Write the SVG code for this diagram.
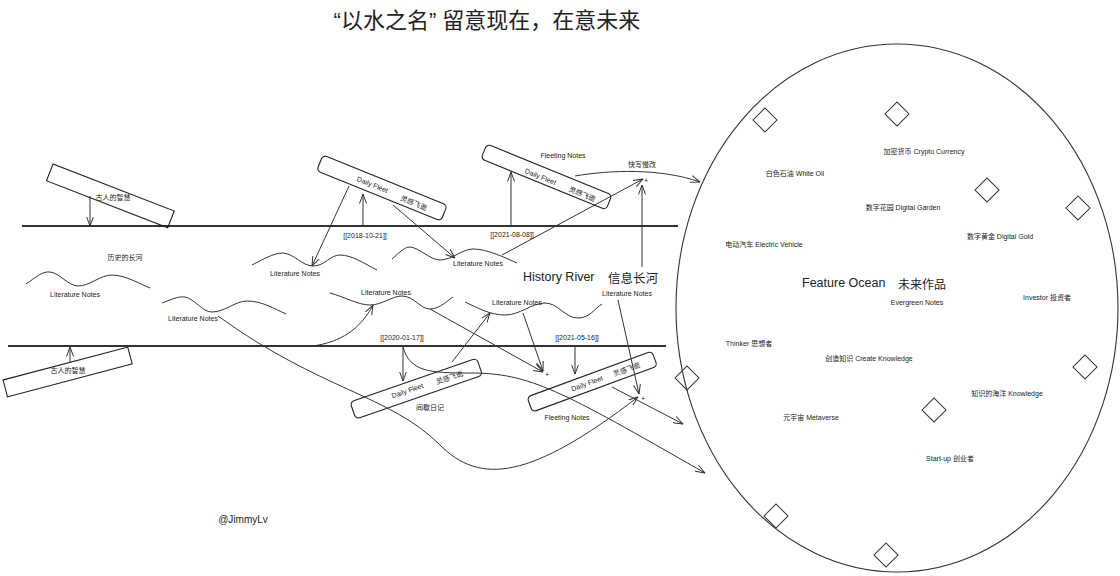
<svg xmlns="http://www.w3.org/2000/svg" width="1120" height="576" viewBox="0 0 1120 576">
<defs>
<marker id="ah" viewBox="0 0 10 10" refX="9.5" refY="5" markerWidth="10" markerHeight="10" orient="auto" markerUnits="userSpaceOnUse"><path d="M0,1.5 L9.5,5 L0,8.5" fill="none" stroke="#333" stroke-width="1"/></marker>
<style>
.ln{fill:none;stroke:#333;stroke-width:1}
.river{fill:none;stroke:#333;stroke-width:2}
.box{fill:none;stroke:#222;stroke-width:1.1}
.wave{fill:none;stroke:#333;stroke-width:1}
.dia{fill:none;stroke:#333;stroke-width:1}
.t{font-family:"Liberation Sans","Noto Sans CJK SC",sans-serif;fill:#222;text-anchor:middle;dominant-baseline:central}
.s7{font-size:7px}
.s8{font-size:8px}
.cn{font-family:"Noto Sans CJK SC","Liberation Sans",sans-serif;fill:#222;text-anchor:middle;dominant-baseline:central}
</style>
</defs>
<rect width="1120" height="576" fill="#fff"/>

<text class="t" x="487" y="20" style="font-size:22px">“以水之名” 留意现在，在意未来</text>

<!-- river -->
<g id="river">
<line class="river" x1="22" y1="226" x2="678" y2="226"/>
<line class="river" x1="8" y1="346" x2="666" y2="346"/>
<text class="cn s7" x="125" y="257">历史的长河</text>
<text class="t" x="523" y="277" style="font-size:12.5px;text-anchor:start">History River</text>
<text class="cn" x="608" y="277" style="font-size:12.5px;text-anchor:start">信息长河</text>
</g>

<!-- ocean -->
<g id="ocean">
<ellipse cx="897" cy="308" rx="221" ry="264" fill="none" stroke="#333" stroke-width="1.1"/>
<text class="t" x="802" y="283" style="font-size:12.5px;text-anchor:start">Feature Ocean</text>
<text class="cn" x="898" y="283" style="font-size:12px;text-anchor:start">未来作品</text>
</g>

<g id="diamonds">
<rect class="dia" x="-8.5" y="-8.5" width="17" height="17" transform="translate(765,120) rotate(45)"/>
<rect class="dia" x="-8.5" y="-8.5" width="17" height="17" transform="translate(897,114) rotate(45)"/>
<rect class="dia" x="-8.5" y="-8.5" width="17" height="17" transform="translate(987,190) rotate(45)"/>
<rect class="dia" x="-8.5" y="-8.5" width="17" height="17" transform="translate(1078,208) rotate(45)"/>
<rect class="dia" x="-8.5" y="-8.5" width="17" height="17" transform="translate(1085,367) rotate(45)"/>
<rect class="dia" x="-8.5" y="-8.5" width="17" height="17" transform="translate(934,410) rotate(45)"/>
<rect class="dia" x="-8.5" y="-8.5" width="17" height="17" transform="translate(776,516) rotate(45)"/>
<rect class="dia" x="-8.5" y="-8.5" width="17" height="17" transform="translate(886,555) rotate(45)"/>
<rect class="dia" x="-8.5" y="-8.5" width="17" height="17" transform="translate(687,378) rotate(45)"/>
</g>

<g id="ocean-labels">
<text class="t s7" x="924" y="151">加密货币 Crypto Currency</text>
<text class="t s7" x="795" y="173">白色石油 White Oil</text>
<text class="t s7" x="903" y="207">数字花园 Digital Garden</text>
<text class="t s7" x="1000" y="236">数字黄金 Digital Gold</text>
<text class="t s7" x="764" y="244">电动汽车 Electric Vehicle</text>
<text class="t s7" x="917" y="302">Evergreen Notes</text>
<text class="t s7" x="1047" y="297">Investor 投资者</text>
<text class="t s7" x="749" y="343">Thinker 思想者</text>
<text class="t s7" x="869" y="358">创造知识 Create Knowledge</text>
<text class="t s7" x="1007" y="393">知识的海洋 Knowledge</text>
<text class="t s7" x="811" y="417">元宇宙 Metaverse</text>
<text class="t s7" x="950" y="458">Start-up 创业者</text>
</g>

<!-- boxes -->
<g id="wisdom-top">
<g transform="translate(53,164) rotate(21.2)"><rect class="box" x="0" y="0" width="130" height="18"/></g>
<text class="cn s7" x="113" y="197">古人的智慧</text>
</g>
<g id="wisdom-bottom">
<g transform="translate(3,380) rotate(-14.8)"><rect class="box" x="0" y="0" width="129" height="17.5"/></g>
<text class="cn s7" x="68" y="370">古人的智慧</text>
</g>
<g id="fleet1" transform="translate(323,155) rotate(22)">
<rect class="box" x="0" y="0" width="134" height="17" rx="4"/>
<text class="t s7" x="57" y="9">Daily Fleet</text>
<text class="cn s7" x="102" y="10">灵感飞逝</text>
</g>
<g id="fleet2">
<g transform="translate(487,144) rotate(22.2)">
<rect class="box" x="0" y="0" width="135" height="16" rx="4"/>
<text class="t s7" x="62" y="10">Daily Fleet</text>
<text class="cn s7" x="107" y="10">灵感飞逝</text>
</g>
<text class="t s7" x="563" y="155">Fleeting Notes</text>
</g>
<g id="fleet3">
<g transform="translate(350,402) rotate(-19.1)">
<rect class="box" x="0" y="0" width="134" height="18" rx="4"/>
<text class="t s7" x="58" y="8">Daily Fleet</text>
<text class="cn s7" x="102" y="9">灵感飞逝</text>
</g>
<text class="cn s7" x="430" y="407">间歇日记</text>
</g>
<g id="fleet4">
<g transform="translate(527,397) rotate(-20.2)">
<rect class="box" x="0" y="0" width="133" height="16" rx="4"/>
<text class="t s7" x="61" y="8">Daily Fleet</text>
<text class="cn s7" x="103" y="8">灵感飞逝</text>
</g>
<text class="t s7" x="567" y="417">Fleeting Notes</text>
</g>

<!-- literature notes waves -->
<g id="lit1"><path class="wave" d="M26,284 C35,278 42,271 50,272 C60,273 68,286 78,286 C90,286 100,275 112,275 C125,275 140,284 150,288"/><text class="t s7" x="75" y="294">Literature Notes</text></g>
<g id="lit2"><path class="wave" d="M162,303 C170,300 178,296 185,297 C195,299 202,312 212,312 C225,312 235,301 247,301 C262,301 275,309 286,314"/><text class="t s7" x="193" y="318">Literature Notes</text></g>
<g id="lit3"><path class="wave" d="M252,265 C262,260 273,253 283,253 C295,254 302,266 313,266 C325,266 330,255 340,255 C352,255 365,264 377,270"/><text class="t s7" x="295" y="273">Literature Notes</text></g>
<g id="lit4"><path class="wave" d="M392,259 C398,254 404,247 410,247 C420,248 430,260 440,260 C452,260 462,249 473,249 C488,249 505,258 517,263"/><text class="t s7" x="478" y="263">Literature Notes</text></g>
<g id="lit5"><path class="wave" d="M330,293 C345,297 358,305 370,305 C382,305 392,296 402,296 C414,296 420,309 430,309 C440,309 448,300 453,297"/><text class="t s7" x="386" y="292">Literature Notes</text></g>
<g id="lit6"><path class="wave" d="M465,302 C478,308 490,315 505,315 C520,315 532,303 545,303 C558,303 565,318 578,318 C590,318 595,308 602,304"/><text class="t s7" x="517" y="302">Literature Notes</text></g>
<g id="lit7"><text class="t s7" x="627" y="293">Literature Notes</text></g>

<g id="dates">
<text class="t s7" x="365" y="235">[[2018-10-21]]</text>
<text class="t s7" x="512" y="234">[[2021-08-08]]</text>
<text class="t s7" x="402" y="337">[[2020-01-17]]</text>
<text class="t s7" x="577" y="337">[[2021-05-16]]</text>
<text class="cn s7" x="642" y="164">快写慢改</text>
<text class="t s7" x="646" y="180">+</text>
<text class="t s7" x="547" y="374">+</text>
<text class="t s7" x="643" y="398">+</text>
</g>

<g id="connectors">
<line class="ln" x1="90" y1="196" x2="90" y2="226" marker-end="url(#ah)"/>
<line class="ln" x1="70" y1="362" x2="70" y2="347" marker-end="url(#ah)"/>
<line class="ln" x1="349" y1="186" x2="312" y2="266" marker-end="url(#ah)"/>
<line class="ln" x1="363" y1="226" x2="363" y2="194" marker-end="url(#ah)"/>
<line class="ln" x1="393" y1="205" x2="455" y2="258" marker-end="url(#ah)"/>
<line class="ln" x1="511" y1="226" x2="511" y2="172" marker-end="url(#ah)"/>
<path class="ln" d="M575,176 C610,170 660,168 700,182" marker-end="url(#ah)"/>
<line class="ln" x1="502" y1="255" x2="643" y2="179" marker-end="url(#ah)"/>
<line class="ln" x1="642" y1="267" x2="642" y2="185" marker-end="url(#ah)"/>
<path class="ln" d="M313,346 C340,342 360,330 373,305" marker-end="url(#ah)"/>
<line class="ln" x1="452" y1="362" x2="490" y2="313" marker-end="url(#ah)"/>
<line class="ln" x1="523" y1="313" x2="543" y2="371" marker-end="url(#ah)"/>
<line class="ln" x1="430" y1="309" x2="543" y2="372" marker-end="url(#ah)"/>
<line class="ln" x1="403" y1="347" x2="403" y2="381" marker-end="url(#ah)"/>
<line class="ln" x1="575" y1="347" x2="575" y2="374" marker-end="url(#ah)"/>
<line class="ln" x1="618" y1="300" x2="639" y2="394" stroke="#777" stroke-width="1.5" marker-end="url(#ah)"/>
<path class="ln" d="M218,316 C320,390 390,395 440,445 C480,485 530,480 638,397" marker-end="url(#ah)"/>
<path class="ln" d="M403,347 C410,372 430,373 470,373 C530,373 560,390 705,473" marker-end="url(#ah)"/>
<line class="ln" x1="612" y1="387" x2="683" y2="424" marker-end="url(#ah)"/>
</g>

<text class="t" x="243" y="519" style="font-size:10px">@JimmyLv</text>
</svg>
